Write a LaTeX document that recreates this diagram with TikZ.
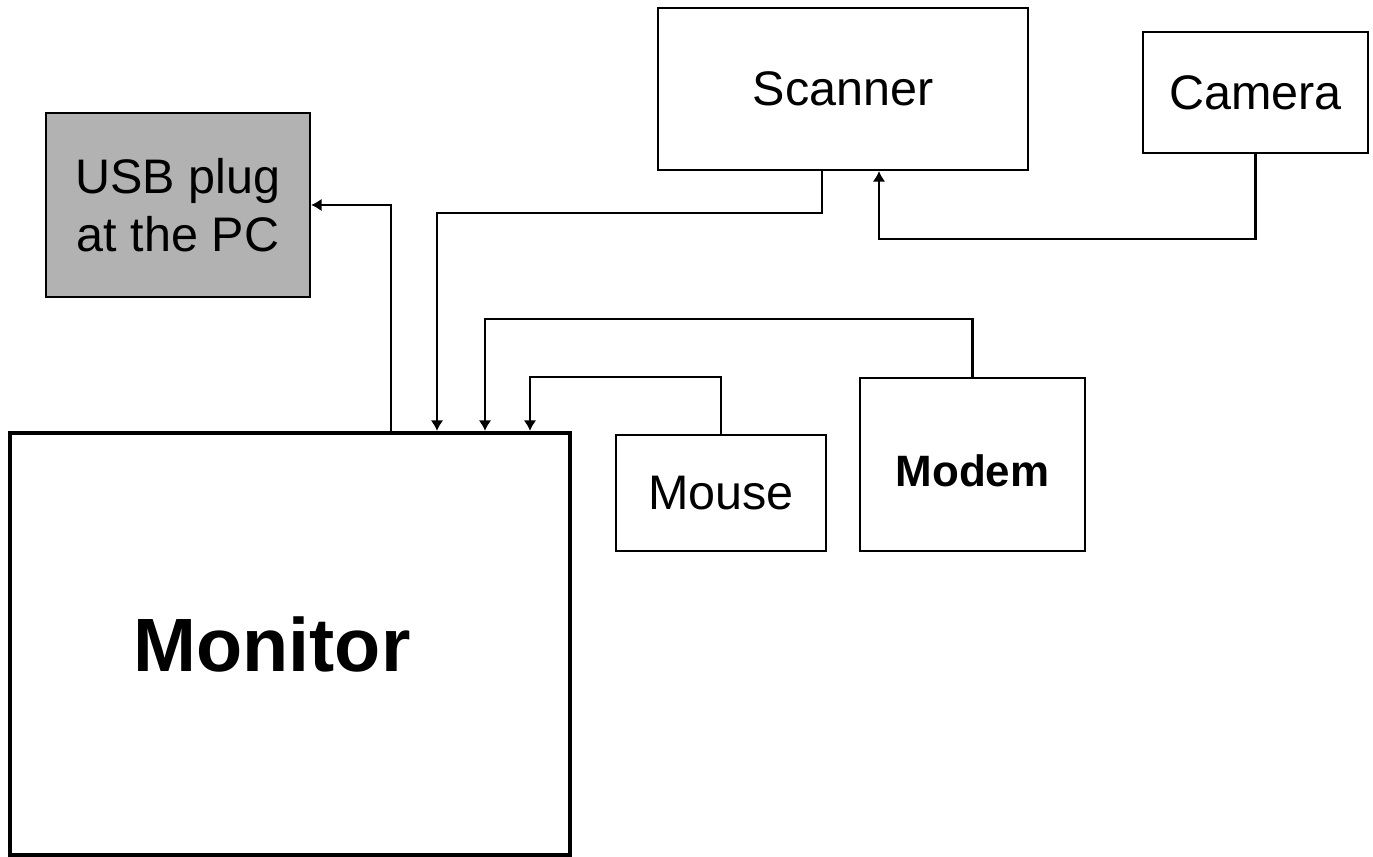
\documentclass[tikz,border=0pt]{standalone}
\usepackage{fontspec}
\setmainfont{Liberation Sans}
\definecolor{plugGray}{RGB}{178,178,178}
\usepackage{tikz}
\usetikzlibrary{arrows.meta, positioning, calc}

\begin{document}
\begin{tikzpicture}[
    dev/.style={draw=black, line width=0.6pt, fill=white, align=center,
                font=\fontsize{13.8}{16.5}\selectfont, inner sep=2pt},
    wire/.style={draw=black, line width=0.6pt, -{Latex[length=3pt,width=3.6pt]}}
  ]
    \useasboundingbox (0,0) rectangle (13.73,8.57);

    \node[dev, fill=plugGray, minimum width=2.64cm, minimum height=1.84cm] (usb) at (1.78,6.52) {
      USB plug\\at the PC
    };
    \node[dev, minimum width=3.70cm, minimum height=1.62cm] (scn) at (8.43,7.68) {Scanner};
    \node[dev, minimum width=2.25cm, minimum height=1.21cm] (cam) at (12.555,7.645) {Camera};
    \node[dev, line width=1.2pt, minimum width=5.60cm, minimum height=4.22cm,
          font=\fontsize{21.5}{26}\selectfont\bfseries] (mon) at (2.90,2.13) {\hspace*{-3.6mm}Monitor};
    \node[dev, minimum width=2.10cm, minimum height=1.16cm] (mou) at (7.21,3.64) {Mouse};
    \node[dev, minimum width=2.25cm, minimum height=1.73cm,
          font=\fontsize{12.5}{15}\selectfont\bfseries] (mdm) at (9.725,3.925) {\raisebox{-2.2mm}[0pt][0pt]{Modem}};

    \draw[wire] ([xshift=1.01cm]mon.north) |- (usb.east);
    \draw[wire] ([xshift=-2.1mm]scn.south) -- ++(0,-0.42) -| ([xshift=1.47cm]mon.north);
    \draw[wire] (cam.south) -- ++(0,-0.85) -| ([xshift=3.6mm]scn.south);
    \draw[wire] (mdm.north) -- ++(0,0.58) -| ([xshift=1.95cm]mon.north);
    \draw[wire] (mou.north) -- ++(0,0.57) -| ([xshift=2.40cm]mon.north);
  \end{tikzpicture}
\end{document}
